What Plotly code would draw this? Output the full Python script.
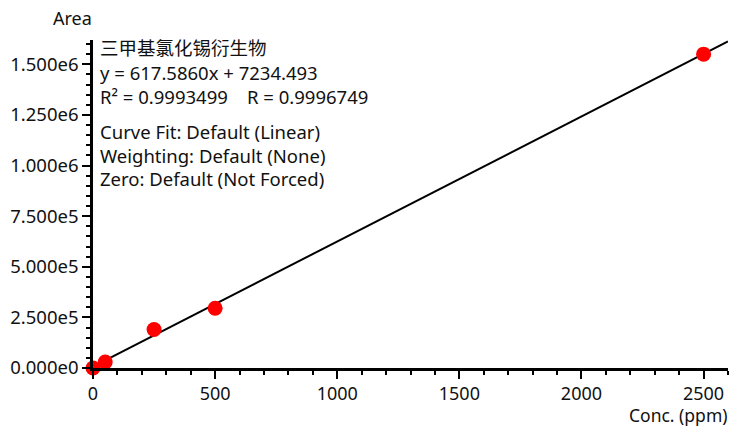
import plotly.graph_objects as go

# Calibration standards: concentration (ppm) and measured peak area
conc = [0, 50, 250, 500, 2500]
area = [0, 30000, 190000, 295000, 1550000]

# Regression reported for the curve
slope = 617.5860
intercept = 7234.493
fit_x = [0, 2600]
fit_y = [slope * v + intercept for v in fit_x]

y_tickvals = [0, 250000, 500000, 750000, 1000000, 1250000, 1500000]
y_ticktext = ["0.000e0", "2.500e5", "5.000e5", "7.500e5", "1.000e6", "1.250e6", "1.500e6"]
x_tickvals = [0, 500, 1000, 1500, 2000, 2500]

info_lines = [
    "三甲基氯化锡衍生物",
    "y = 617.5860x + 7234.493",
    "R² = 0.9993499    R = 0.9996749",
    "Curve Fit: Default (Linear)",
    "Weighting: Default (None)",
    "Zero: Default (Not Forced)",
]
info_offsets = [7, 32, 56, 91, 115, 138]

FONT = "Noto Sans, Noto Sans CJK SC, sans-serif"
INK = "#111111"

fig = go.Figure()
fig.add_trace(go.Scatter(
    x=fit_x, y=fit_y, mode="lines",
    line=dict(color="black", width=2), hoverinfo="skip", showlegend=False,
))
fig.add_trace(go.Scatter(
    x=conc, y=area, mode="markers",
    marker=dict(color="#ff0000", size=15, line=dict(width=0)),
    cliponaxis=False, showlegend=False,
))

plot_top = 40
for text, off in zip(info_lines, info_offsets):
    fig.add_annotation(
        text=text, xref="paper", yref="paper", x=0, y=1,
        xanchor="left", yanchor="middle", xshift=5, yshift=-off,
        showarrow=False, font=dict(family=FONT, size=18.5, color=INK),
    )

fig.add_annotation(
    text="Area", xref="paper", yref="paper", x=0, y=1,
    xanchor="center", yanchor="middle", xshift=-21, yshift=22,
    showarrow=False, font=dict(family=FONT, size=18, color=INK),
)
fig.add_annotation(
    text="Conc. (ppm)", xref="paper", yref="paper", x=1, y=0,
    xanchor="right", yanchor="middle", xshift=2, yshift=-47,
    showarrow=False, font=dict(family=FONT, size=17.5, color=INK),
)

fig.update_layout(
    width=729, height=427,
    margin=dict(l=93, r=1, t=plot_top, b=59),
    paper_bgcolor="white", plot_bgcolor="white",
    font=dict(family=FONT, size=18, color=INK),
    xaxis=dict(
        range=[0, 2600], tickvals=x_tickvals, ticks="outside", ticklen=8, tickwidth=2,
        tickcolor="black", showline=True, linecolor="black", linewidth=2.5,
        showgrid=False, zeroline=False, tickfont=dict(size=18),
        minor=dict(dtick=100, ticks="outside", ticklen=4, tickwidth=2, tickcolor="black", showgrid=False),
    ),
    yaxis=dict(
        range=[0, 1620000], tickvals=y_tickvals, ticktext=y_ticktext,
        ticks="outside", ticklen=8, tickwidth=2, tickcolor="black",
        showline=True, linecolor="black", linewidth=2.5,
        showgrid=False, zeroline=False, tickfont=dict(size=18.5),
        minor=dict(dtick=50000, ticks="outside", ticklen=4, tickwidth=2, tickcolor="black", showgrid=False),
    ),
)

fig.write_html("out.html")
